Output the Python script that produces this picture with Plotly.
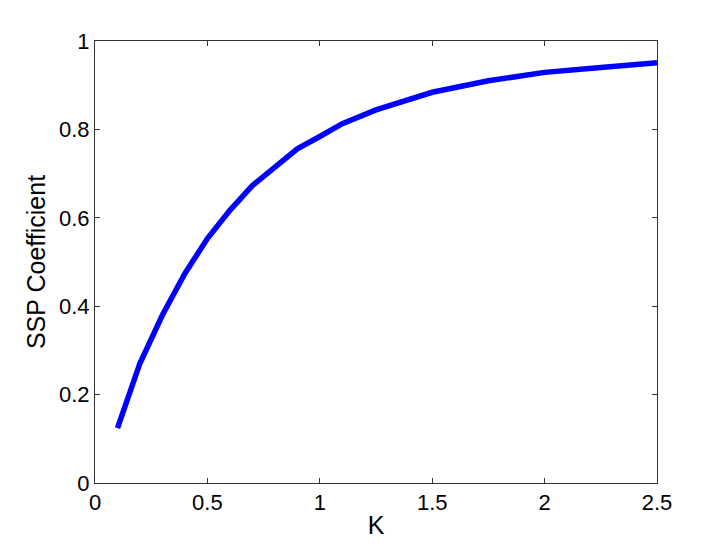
import plotly.graph_objects as go

# values
k_values = [0.1, 0.2, 0.3, 0.4, 0.5, 0.6, 0.7, 0.8, 0.9, 1.0, 1.1, 1.25, 1.5, 1.75, 2.0, 2.25, 2.5]
ssp_coefficient = [0.124, 0.271, 0.380, 0.474, 0.553, 0.617, 0.673, 0.715, 0.756, 0.784,
                   0.813, 0.844, 0.884, 0.910, 0.929, 0.940, 0.951]

x_ticks = [0, 0.5, 1, 1.5, 2, 2.5]
x_tick_labels = ["0", "0.5", "1", "1.5", "2", "2.5"]
y_ticks = [0, 0.2, 0.4, 0.6, 0.8, 1]
y_tick_labels = ["0", "0.2", "0.4", "0.6", "0.8", "1"]

FONT = "Liberation Sans, Arial, Helvetica, sans-serif"
AXIS_COLOR = "#333333"

fig = go.Figure()
fig.add_trace(
    go.Scatter(
        x=k_values,
        y=ssp_coefficient,
        mode="lines",
        line=dict(color="#0000ff", width=5.5),
        showlegend=False,
    )
)

axis_style = dict(
    showgrid=False,
    zeroline=False,
    showline=True,
    linecolor=AXIS_COLOR,
    linewidth=1,
    mirror="ticks",
    ticks="inside",
    ticklen=5,
    tickcolor=AXIS_COLOR,
    tickfont=dict(family=FONT, size=22, color="black"),
)

fig.update_xaxes(
    range=[0, 2.5],
    tickvals=x_ticks,
    ticktext=x_tick_labels,
    title=dict(text="K", font=dict(family=FONT, size=25, color="black"), standoff=2),
    **axis_style,
)
fig.update_yaxes(
    range=[0, 1],
    tickvals=y_ticks,
    ticktext=y_tick_labels,
    title=dict(text="SSP Coefficient", font=dict(family=FONT, size=25, color="black"), standoff=6),
    **axis_style,
)

# the page body adds an 8px offset, so margins are shifted to land the
# plot area where the reference has it
fig.update_layout(
    width=727,
    height=544,
    margin=dict(l=87, r=78, t=33, b=69, autoexpand=False),
    paper_bgcolor="white",
    plot_bgcolor="white",
)

fig.write_html("out.html")
